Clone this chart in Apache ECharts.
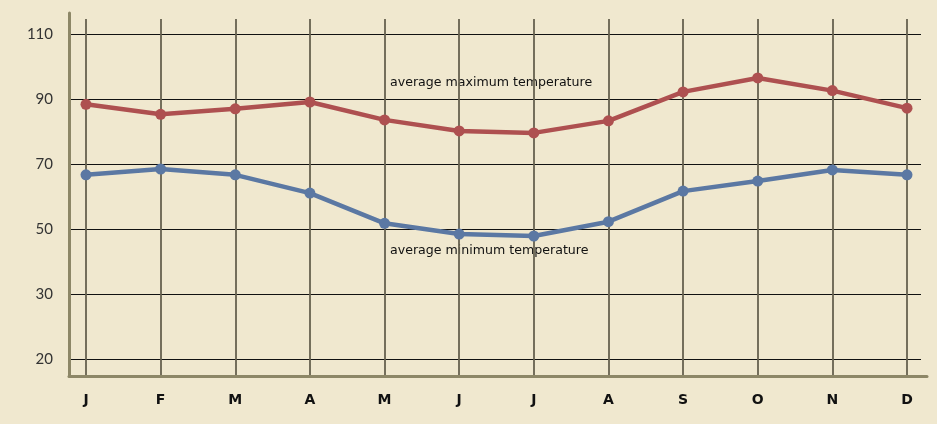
<!DOCTYPE html>
<html><head><meta charset="utf-8">
<script src="https://cdn.jsdelivr.net/npm/echarts@6/dist/echarts.min.js"></script>
<style>html,body{margin:0;padding:0;background:#f0e8cf}#c{width:937px;height:424px}</style>
</head><body><div id="c"></div>
<script>
const months = ['J','F','M','A','M','J','J','A','S','O','N','D'];
const maxTemp = [88.4, 85.3, 87.0, 89.1, 83.6, 80.2, 79.6, 83.3, 92.2, 96.5, 92.6, 87.2];
const minTemp = [66.7, 68.5, 66.7, 61.1, 51.8, 48.5, 47.9, 52.3, 61.7, 64.8, 68.2, 66.7];
const yTicks = {10: '20', 30: '30', 50: '50', 70: '70', 90: '90', 110: '110'};
const maxLabel = 'average maximum temperature';
const minLabel = 'average minimum temperature';

const font = 'Lato, "DejaVu Sans", sans-serif';
const font2 = '"DejaVu Sans", sans-serif';
const chart = echarts.init(document.getElementById('c'));
const catIdx = months.map((m, i) => i);
chart.setOption({
  backgroundColor: '#f0e8cf',
  animation: false,
  grid: [
    {left: 86, right: 30, top: 34, bottom: 64.7},
    {left: 86, right: 30, top: 19, bottom: 48},
    {left: 69, right: 16, top: 34, bottom: 64.7},
    {left: 69, right: 10, top: 13, bottom: 48}
  ],
  xAxis: [
    {gridIndex: 0, type: 'category', data: catIdx, boundaryGap: false, show: false},
    {gridIndex: 1, type: 'category', data: catIdx, boundaryGap: false,
      axisLine: {show: false}, axisTick: {show: false},
      axisLabel: {interval: 0, margin: 17, fontFamily: font2, fontWeight: 'bold', fontSize: 14, color: '#111',
        formatter: v => months[v]},
      splitLine: {show: true, interval: 0, lineStyle: {color: '#66614f', width: 1.8}}},
    {gridIndex: 2, type: 'value', min: 0, max: 1, show: false},
    {gridIndex: 3, type: 'value', min: 0, max: 1,
      axisLine: {show: true, onZero: false, lineStyle: {color: '#8d8767', width: 3}},
      axisTick: {show: false}, axisLabel: {show: false}, splitLine: {show: false}}
  ],
  yAxis: [
    {gridIndex: 0, type: 'value', min: 10, max: 110, show: false},
    {gridIndex: 1, type: 'value', min: 0, max: 1, show: false},
    {gridIndex: 2, type: 'value', min: 10, max: 110, interval: 20,
      axisLine: {show: false}, axisTick: {show: false},
      axisLabel: {margin: 16, fontFamily: font, fontSize: 15, color: '#333', formatter: v => yTicks[v] || ''},
      splitLine: {show: true, lineStyle: {color: '#111', width: 1}}},
    {gridIndex: 3, type: 'value', min: 0, max: 1,
      axisLine: {show: true, onZero: false, lineStyle: {color: '#8d8767', width: 3}},
      axisTick: {show: false}, axisLabel: {show: false}, splitLine: {show: false}}
  ],
  series: [
    {type: 'line', xAxisIndex: 0, yAxisIndex: 0, data: maxTemp, symbol: 'circle', symbolSize: 11,
      lineStyle: {color: '#ae5050', width: 4.5}, itemStyle: {color: '#ae5050'}, z: 10},
    {type: 'line', xAxisIndex: 0, yAxisIndex: 0, data: minTemp, symbol: 'circle', symbolSize: 11,
      lineStyle: {color: '#5b78a3', width: 4.5}, itemStyle: {color: '#5b78a3'}, z: 10}
  ],
  graphic: [
    {type: 'text', left: 390, top: 76.5, style: {text: maxLabel, fontFamily: font2, fontSize: 12.6, fill: '#111'}},
    {type: 'text', left: 390, top: 244.5, style: {text: minLabel, fontFamily: font2, fontSize: 12.6, fill: '#111'}}
  ]
});
</script></body></html>
